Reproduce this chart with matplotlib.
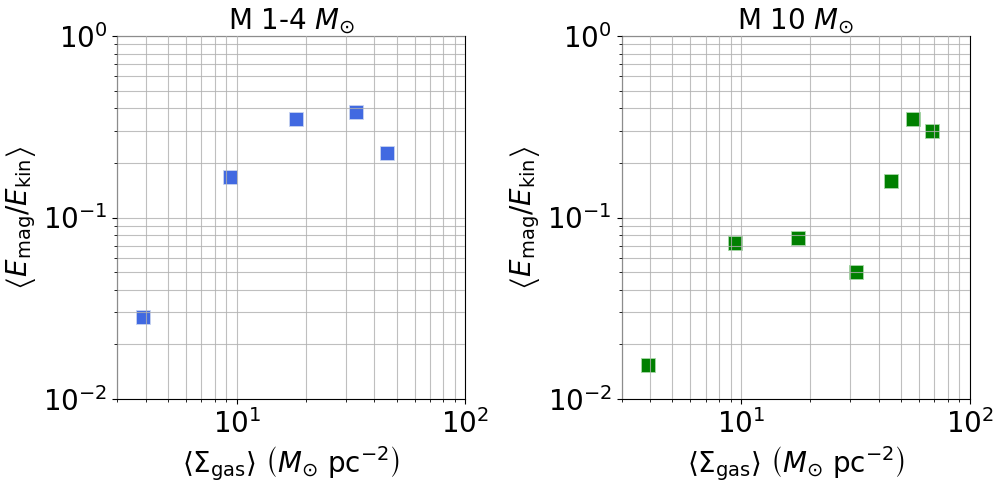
import matplotlib
matplotlib.use('Agg')
import matplotlib.pyplot as plt

# surface density of gas and magnetic/kinetic energy ratio
sigma_low = [3.9, 9.3, 18.2, 33.1, 45.5]
ratio_low = [0.0284, 0.167, 0.351, 0.382, 0.226]

sigma_high = [3.9, 9.35, 17.7, 31.7, 45.2, 56.6, 68.5]
ratio_high = [0.0154, 0.0721, 0.0773, 0.0504, 0.158, 0.347, 0.299]

titles = [r'M 1-4 $M_{\odot}$', r'M 10 $M_{\odot}$']
colors = ['royalblue', 'green']
edges = ['#c8d4f0', '#a8d8a8']

plt.rcParams['font.size'] = 20

fig = plt.figure(figsize=(9.99, 4.84), dpi=100)
ax1 = fig.add_axes([117.3/999, 85/484, 348/999, 363/484])
ax2 = fig.add_axes([621.7/999, 85/484, 348/999, 363/484])

data = [(sigma_low, ratio_low), (sigma_high, ratio_high)]
for ax, (x, y), title, c, ec in zip([ax1, ax2], data, titles, colors, edges):
    ax.scatter(x, y, marker='s', s=90, color=c, edgecolors=ec, linewidths=0.6, zorder=1)
    ax.set_xscale('log')
    ax.set_yscale('log')
    ax.set_xlim(3, 100)
    ax.set_ylim(1e-2, 1)
    ax.grid(True, which='both', color='#b0b0b0', linewidth=0.8, alpha=0.8, zorder=3)
    ax.set_axisbelow(False)
    ax.set_title(title, fontsize=20, pad=4)
    ax.set_xlabel(r'$\langle\Sigma_{\rm gas}\rangle$ $\left(M_{\odot}\ {\rm pc}^{-2}\right)$', fontsize=20)
    ax.set_ylabel(r'$\left\langle E_{\rm mag}/E_{\rm kin}\right\rangle$', fontsize=20)
    ax.tick_params(labelsize=20)

fig.savefig('out.png', dpi=100)
